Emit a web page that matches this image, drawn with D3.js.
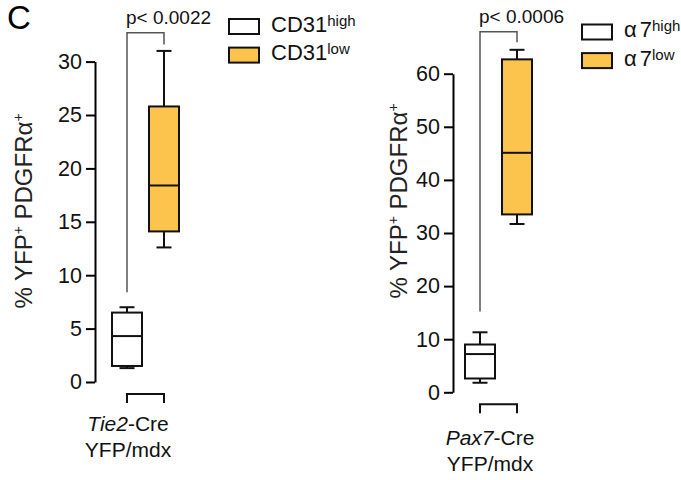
<!DOCTYPE html>
<html>
<head>
<meta charset="utf-8">
<script src="https://cdn.jsdelivr.net/npm/d3@7"></script>
<style>
body { margin: 0; background: #fff; }
svg { font-family: "Liberation Sans", Arial, sans-serif; }
</style>
</head>
<body>
<div id="chart"></div>
<script>
// two groups in each panel
const groups = ["high", "low"];
const fills = ["#ffffff", "#fcc34d"];

// Tie2-Cre YFP/mdx panel (box stats, % YFP+ PDGFRa+)
const tieMin = [1.3, 12.6];
const tieQ1 = [1.5, 14.1];
const tieMedian = [4.3, 18.4];
const tieQ3 = [6.5, 25.8];
const tieMax = [7.0, 31.0];
const tieTicks = [0, 5, 10, 15, 20, 25, 30];

// Pax7-Cre YFP/mdx panel
const paxMin = [1.8, 31.7];
const paxQ1 = [2.6, 33.5];
const paxMedian = [7.2, 45.1];
const paxQ3 = [9.0, 62.7];
const paxMax = [11.3, 64.5];
const paxTicks = [0, 10, 20, 30, 40, 50, 60];

// significance: p label, bracket [start over high, top, end over low] in data units
const pLabels = ["p< 0.0022", "p< 0.0006"];
const tieBracket = [8.4, 32.7, 31.6];
const paxBracket = [15.2, 67.9, 65.9];

const legendTie = [["CD31"], ["CD31"]];
const legendPax = [["α", "7"], ["α", "7"]];
const legendSup = ["high", "low"];

const width = 681, height = 480;
const svg = d3.select("#chart").append("svg")
    .attr("width", width)
    .attr("height", height);

svg.append("text")
    .attr("x", 7).attr("y", 29)
    .attr("font-size", 33)
    .text("C");

function drawPanel(opt) {
    const y = d3.scaleLinear()
        .domain([0, d3.max(opt.ticks)])
        .range(opt.yRange);
    const x = d3.scalePoint()
        .domain(groups)
        .range(opt.xRange);

    const g = svg.append("g");

    // y axis
    const ax = g.append("g")
        .attr("transform", `translate(${opt.axisX},0)`)
        .call(d3.axisLeft(y).tickValues(opt.ticks).tickSize(9).tickSizeOuter(0).tickPadding(4));
    ax.attr("font-family", null).attr("font-size", 21.5);
    ax.select(".domain").attr("stroke-width", 2);
    ax.selectAll(".tick line").attr("stroke-width", 2);
    ax.selectAll(".tick text").attr("fill", "#111");

    // boxes
    groups.forEach((grp, i) => {
        const cx = x(grp);
        g.append("line")
            .attr("x1", cx).attr("x2", cx)
            .attr("y1", y(opt.max[i])).attr("y2", y(opt.min[i]))
            .attr("stroke", "#111").attr("stroke-width", 2);
        [opt.max[i], opt.min[i]].forEach(v => {
            g.append("line")
                .attr("x1", cx - 7.5).attr("x2", cx + 7.5)
                .attr("y1", y(v)).attr("y2", y(v))
                .attr("stroke", "#111").attr("stroke-width", 2);
        });
        g.append("rect")
            .attr("x", cx - 15).attr("width", 30)
            .attr("y", y(opt.q3[i]))
            .attr("height", y(opt.q1[i]) - y(opt.q3[i]))
            .attr("fill", fills[i])
            .attr("stroke", "#111").attr("stroke-width", 2);
        g.append("line")
            .attr("x1", cx - 15).attr("x2", cx + 15)
            .attr("y1", y(opt.median[i])).attr("y2", y(opt.median[i]))
            .attr("stroke", "#111").attr("stroke-width", 2);
    });

    // significance bracket
    const b = opt.bracket;
    g.append("path")
        .attr("d", `M${x("high")},${y(b[0])}V${y(b[1])}H${x("low")}V${y(b[2])}`)
        .attr("fill", "none")
        .attr("stroke", "#555").attr("stroke-width", 1.5);
    g.append("text")
        .attr("x", x("high") - 1).attr("y", y(b[1]) - 9)
        .attr("font-size", 19)
        .attr("fill", "#111")
        .text(opt.pLabel);

    // group bracket under the axis
    const by = opt.yRange[0] + 12;
    g.append("path")
        .attr("d", `M${x("high")},${by + 9}V${by}H${x("low")}V${by + 9}`)
        .attr("fill", "none")
        .attr("stroke", "#111").attr("stroke-width", 2);

    // x label
    const xl = g.append("text")
        .attr("x", opt.xLabelX).attr("y", opt.xLabelY)
        .attr("text-anchor", "middle")
        .attr("font-size", 21)
        .attr("fill", "#111");
    xl.append("tspan").attr("font-style", "italic").text(opt.xLabel[0]);
    xl.append("tspan").text(opt.xLabel[1]);
    g.append("text")
        .attr("x", opt.xLabelX).attr("y", opt.xLabelY + 26)
        .attr("text-anchor", "middle")
        .attr("font-size", 21)
        .attr("fill", "#111")
        .text("YFP/mdx");

    // y label
    const yl = g.append("text")
        .attr("transform", `translate(${opt.yLabelX},${opt.yLabelY}) rotate(-90)`)
        .attr("text-anchor", "middle")
        .attr("font-size", 24)
        .attr("fill", "#222");
    yl.append("tspan").text("% YFP");
    yl.append("tspan").attr("font-size", 14).attr("dy", -9).text("+");
    yl.append("tspan").attr("dy", 9).text(" PDGFRα");
    yl.append("tspan").attr("font-size", 14).attr("dy", -9).text("+");

    // legend
    groups.forEach((grp, i) => {
        const ly = opt.legendY + i * 28.6;
        g.append("rect")
            .attr("x", opt.legendX).attr("y", ly)
            .attr("width", 30).attr("height", 15)
            .attr("fill", fills[i])
            .attr("stroke", "#111").attr("stroke-width", 2);
        const t = g.append("text")
            .attr("x", opt.legendX + 42).attr("y", ly + 12.5)
            .attr("font-size", 22)
            .attr("fill", "#111");
        opt.legend[i].forEach((part, k) => {
            t.append("tspan").attr("dx", k > 0 ? 3 : 0).text(part);
        });
        t.append("tspan").attr("font-size", 15).attr("dy", -6).text(legendSup[i]);
    });
}

drawPanel({
    axisX: 95, yRange: [382, 61.6], xRange: [127, 164],
    ticks: tieTicks,
    min: tieMin, q1: tieQ1, median: tieMedian, q3: tieQ3, max: tieMax,
    bracket: tieBracket, pLabel: pLabels[0],
    xLabel: ["Tie2", "-Cre"], xLabelX: 128, xLabelY: 431,
    yLabelX: 32, yLabelY: 211,
    legend: legendTie, legendX: 229, legendY: 19
});

drawPanel({
    axisX: 453, yRange: [392.3, 73.7], xRange: [480, 517],
    ticks: paxTicks,
    min: paxMin, q1: paxQ1, median: paxMedian, q3: paxQ3, max: paxMax,
    bracket: paxBracket, pLabel: pLabels[1],
    xLabel: ["Pax7", "-Cre"], xLabelX: 490, xLabelY: 445,
    yLabelX: 407, yLabelY: 201,
    legend: legendPax, legendX: 582, legendY: 24.5
});
</script>
</body>
</html>
